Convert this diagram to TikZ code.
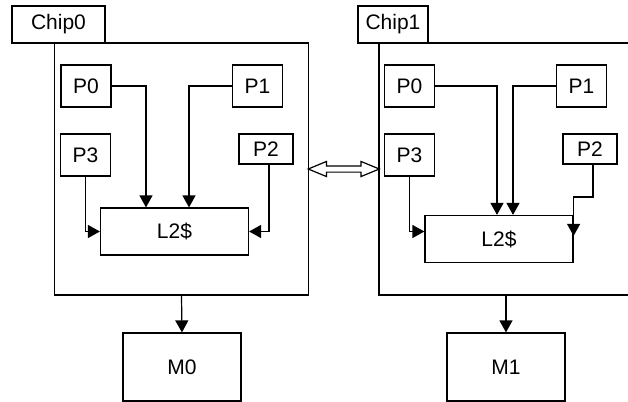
\documentclass[tikz,border=0pt]{standalone}
\usepackage{fontspec}
\setmainfont{Liberation Sans}
\usetikzlibrary{positioning, arrows.meta, shapes.arrows, calc}
\newcommand{\boxfont}{\fontsize{10.5}{12}\selectfont}
\tikzset{
    chiplabel/.style={rectangle, draw, line width=0.6pt, minimum height=18.5pt, inner sep=0pt, font=\boxfont},
    chipbox/.style={rectangle, draw, line width=0.6pt, minimum width=127pt, minimum height=126pt},
    procstyle/.style={rectangle, draw, line width=0.6pt, minimum width=25pt, minimum height=21pt, inner sep=0pt, font=\boxfont},
    smallproc/.style={procstyle, minimum width=27pt, minimum height=15pt},
    cachestyle/.style={rectangle, draw, line width=0.6pt, minimum width=74pt, minimum height=23.5pt, inner sep=0pt, font=\boxfont},
    memstyle/.style={rectangle, draw, line width=0.6pt, minimum width=59pt, minimum height=34pt, inner sep=0pt, font=\boxfont},
    arr/.style={-{Triangle[length=6pt, width=6.5pt]}, line width=0.6pt},
    dblarr/.style={double arrow, draw, line width=0.6pt, inner sep=1.25pt, double arrow head extend=2.25pt, double arrow tip angle=45, minimum height=35.5pt}
}
\begin{document}
\begin{tikzpicture}[x=0.5pt, y=-0.5pt]
    \useasboundingbox (0,0) rectangle (628,402);

    % Chip 0
    \node[chipbox] (chip0) at (181.5,169) {};
    \node[chiplabel, minimum width=46.5pt] (lab0) at (58.5,24.5) {Chip0};
    \node[procstyle] (p0a) at (86,86) {P0};
    \node[procstyle] (p1a) at (257.5,86) {P1};
    \node[procstyle] (p3a) at (85.5,155) {P3};
    \node[smallproc] (p2a) at (266,149) {P2};
    \node[cachestyle] (l2a) at (174.5,231.5) {L2\$};
    \node[memstyle] (m0) at (182,367) {M0};

    \draw[arr] (p0a.east) -| ([xshift=-14.25pt]l2a.north);
    \draw[arr] (p1a.west) -| ([xshift=7.25pt]l2a.north);
    \draw[arr] (p3a.south) |- (l2a.west);
    \draw[arr] ([xshift=1.5pt]p2a.south) |- (l2a.east);
    \draw[arr] (chip0.south) -- (m0.north);

    % Chip 1
    \node[chipbox] (chip1) at (506,169) {};
    \node[chiplabel, minimum width=35pt] (lab1) at (393,24.5) {Chip1};
    \node[procstyle] (p0b) at (409.5,86) {P0};
    \node[procstyle] (p1b) at (581.5,86) {P1};
    \node[procstyle] (p3b) at (409.5,155) {P3};
    \node[smallproc] (p2b) at (590,149) {P2};
    \node[cachestyle] (l2b) at (499,239) {L2\$};
    \node[memstyle] (m1) at (506,367) {M1};

    \draw[arr] (p0b.east) -| ([xshift=-1pt]l2b.north);
    \draw[arr] (p1b.west) -| ([xshift=7pt]l2b.north);
    \draw[arr] (p3b.south) |- ([yshift=3.75pt]l2b.west);
    \draw[arr] ([xshift=1.5pt]p2b.south) |- ([yshift=9pt]l2b.north east) -- ([yshift=-10.5pt]l2b.north east);
    \draw[arr] (chip1.south) -- (m1.north);

    % link between the chips
    \node[dblarr] (link) at ($(chip0.east)!0.5!(chip1.west)$) {};
\end{tikzpicture}
\end{document}
